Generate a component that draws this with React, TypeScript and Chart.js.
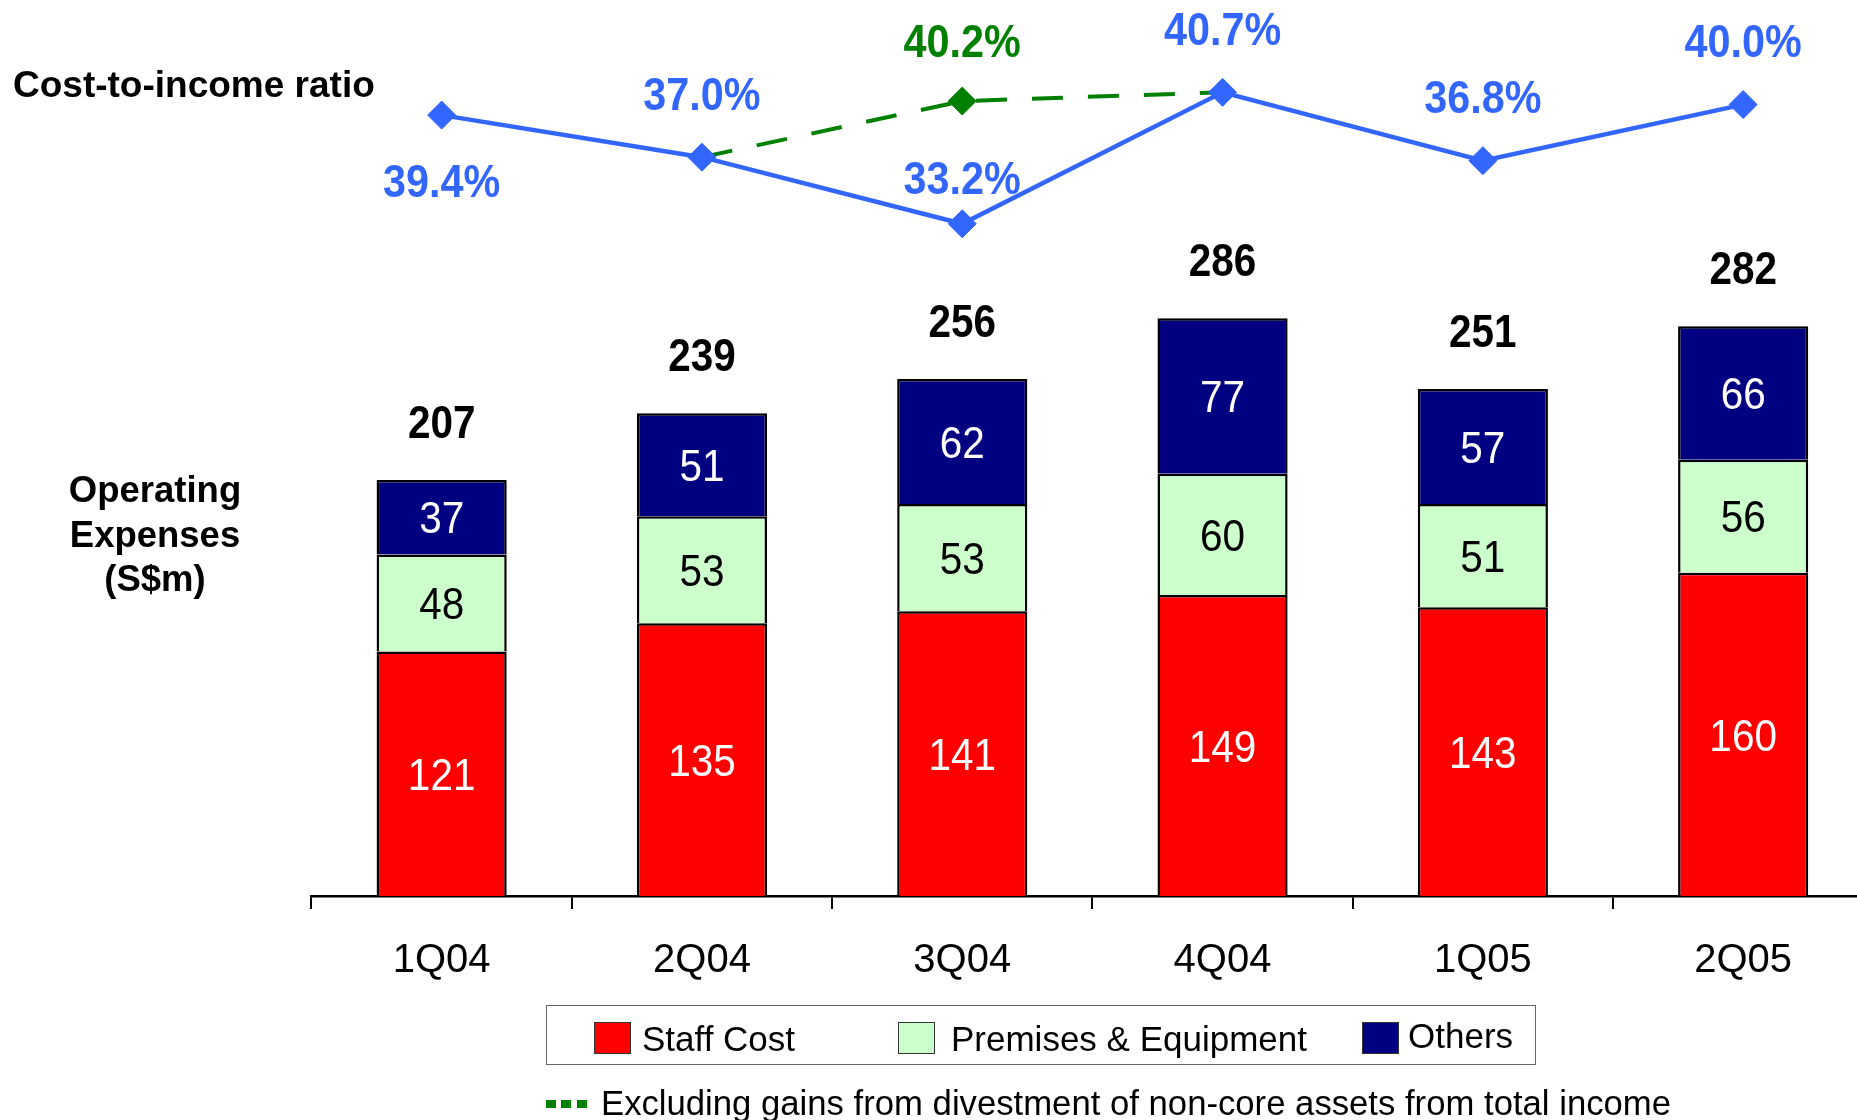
import React, { useEffect, useRef } from "react";
import { Chart, registerables } from "chart.js";

Chart.register(...registerables);

const categories = ["1Q04", "2Q04", "3Q04", "4Q04", "1Q05", "2Q05"];
const staffCost = [121, 135, 141, 149, 143, 160];
const premises = [48, 53, 53, 60, 51, 56];
const others = [37, 51, 62, 77, 57, 66];
const totals = [207, 239, 256, 286, 251, 282];
const costIncome = [39.4, 37.0, 33.2, 40.7, 36.8, 40.0];
const costIncomeExGains = [null, 37.0, 40.2, 40.7, null, null];

const FONT = "'Liberation Sans', Arial, Helvetica, sans-serif";
const BLUE = "#3366FF";
const GREEN = "#008000";
const RED = "#FF0000";
const LIGHT_GREEN = "#CCFFCC";
const NAVY = "#000080";

const CANVAS_W = 1890;
const CANVAS_H = 1120;
const AREA_LEFT = 311.5;
const AREA_RIGHT = 1873.3;
const AREA_TOP = 30;
const AREA_BOTTOM = 896;
const X_AXIS_H = 90;
const BAR_PX_PER_UNIT = 2.02;
const LINE_REF_VAL = 33.2;
const LINE_REF_Y = 223.8;
const LINE_PX_PER_PCT = 17.53;

function drawText(
  ctx: CanvasRenderingContext2D,
  text: string,
  x: number,
  y: number,
  font: string,
  color: string,
  sx: number
) {
  ctx.save();
  ctx.font = font;
  ctx.fillStyle = color;
  ctx.textAlign = "center";
  ctx.textBaseline = "alphabetic";
  ctx.translate(x, y);
  ctx.scale(sx, 1);
  ctx.fillText(text, 0, 0);
  ctx.restore();
}

const labelsPlugin = {
  id: "customLabels",
  afterDraw(chart: any) {
    const ctx = chart.ctx as CanvasRenderingContext2D;
    const segColors = ["#FFFFFF", "#000000", "#FFFFFF"];
    const segSize = 45;
    [0, 1, 2].forEach((di) => {
      const meta = chart.getDatasetMeta(di);
      const vals = chart.data.datasets[di].data;
      meta.data.forEach((el: any, i: number) => {
        const p = el.getProps(["x", "y", "base"], true);
        const cy = (p.y + p.base) / 2;
        drawText(ctx, String(vals[i]), p.x, cy + 0.358 * segSize, `${segSize}px ${FONT}`, segColors[di], 0.9);
      });
    });
    const topMeta = chart.getDatasetMeta(2);
    topMeta.data.forEach((el: any, i: number) => {
      const p = el.getProps(["x", "y"], true);
      drawText(ctx, String(totals[i]), p.x, p.y - 42, `bold 46px ${FONT}`, "#000000", 0.88);
    });
    const blueOffsets = [82, -47, -30, -47, -48, -48];
    const blueMeta = chart.getDatasetMeta(3);
    blueMeta.data.forEach((el: any, i: number) => {
      const p = el.getProps(["x", "y"], true);
      drawText(ctx, costIncome[i].toFixed(1) + "%", p.x, p.y + blueOffsets[i], `bold 47px ${FONT}`, BLUE, 0.88);
    });
    const greenMeta = chart.getDatasetMeta(4);
    greenMeta.data.forEach((el: any, i: number) => {
      if (i !== 2) return;
      const v = costIncomeExGains[i];
      if (v === null) return;
      const p = el.getProps(["x", "y"], true);
      drawText(ctx, v.toFixed(1) + "%", p.x, p.y - 44, `bold 47px ${FONT}`, GREEN, 0.88);
    });
  },
};

function ChartCanvas() {
  const ref = useRef<HTMLCanvasElement | null>(null);
  useEffect(() => {
    if (!ref.current) return;
    const barMax = (AREA_BOTTOM - AREA_TOP) / BAR_PX_PER_UNIT;
    const lineMax = LINE_REF_VAL + (LINE_REF_Y - AREA_TOP) / LINE_PX_PER_PCT;
    const lineMin = LINE_REF_VAL - (AREA_BOTTOM - LINE_REF_Y) / LINE_PX_PER_PCT;
    const barCommon = {
      type: "bar" as const,
      yAxisID: "y",
      borderColor: "#000000",
      borderWidth: 2.5,
      barPercentage: 0.5,
      categoryPercentage: 1,
      order: 2,
    };
    const chart = new Chart(ref.current, {
      type: "bar",
      data: {
        labels: categories,
        datasets: [
          { ...barCommon, label: "Staff Cost", data: staffCost, backgroundColor: RED },
          { ...barCommon, label: "Premises & Equipment", data: premises, backgroundColor: LIGHT_GREEN },
          { ...barCommon, label: "Others", data: others, backgroundColor: NAVY },
          {
            type: "line",
            label: "Cost-to-income ratio",
            data: costIncome,
            yAxisID: "y2",
            borderColor: BLUE,
            backgroundColor: BLUE,
            borderWidth: 4.5,
            pointStyle: "rectRot",
            pointRadius: 14,
            pointBorderWidth: 1,
            pointBackgroundColor: BLUE,
            pointBorderColor: BLUE,
            tension: 0,
            fill: false,
            order: 0,
          } as any,
          {
            type: "line",
            label: "Excluding gains from divestment of non-core assets from total income",
            data: costIncomeExGains,
            yAxisID: "y2",
            borderColor: GREEN,
            backgroundColor: GREEN,
            borderWidth: 4,
            borderDash: [31, 25],
            pointStyle: "rectRot",
            pointRadius: [0, 0, 14, 0, 0, 0],
            pointBorderWidth: 1,
            pointBackgroundColor: GREEN,
            pointBorderColor: GREEN,
            tension: 0,
            fill: false,
            spanGaps: false,
            order: 1,
          } as any,
        ],
      },
      options: {
        responsive: false,
        animation: false,
        devicePixelRatio: 1,
        layout: {
          padding: {
            left: AREA_LEFT,
            right: CANVAS_W - AREA_RIGHT,
            top: AREA_TOP,
            bottom: CANVAS_H - AREA_BOTTOM - X_AXIS_H,
          },
        },
        plugins: {
          legend: { display: false },
          tooltip: { enabled: false },
          title: { display: false },
        },
        scales: {
          x: {
            stacked: true,
            offset: true,
            afterFit: (scale: any) => {
              scale.height = X_AXIS_H;
            },
            grid: {
              display: true,
              offset: true,
              drawOnChartArea: false,
              drawTicks: true,
              tickLength: 13,
              color: "#000000",
              lineWidth: 2,
            },
            border: { display: true, color: "#000000", width: 2.5 },
            ticks: {
              color: "#000000",
              font: { family: FONT, size: 40 },
              padding: 28,
              maxRotation: 0,
              autoSkip: false,
            },
          },
          y: {
            display: false,
            stacked: true,
            min: 0,
            max: barMax,
          },
          y2: {
            display: false,
            stacked: false,
            min: lineMin,
            max: lineMax,
          },
        },
      } as any,
      plugins: [labelsPlugin],
    });
    return () => chart.destroy();
  }, []);
  return (
    <canvas
      ref={ref}
      width={CANVAS_W}
      height={CANVAS_H}
      style={{ position: "absolute", left: 0, top: 0, width: CANVAS_W, height: CANVAS_H }}
    />
  );
}

const textBase: React.CSSProperties = {
  position: "absolute",
  fontFamily: FONT,
  whiteSpace: "nowrap",
  color: "#000000",
};

function Swatch({ left, color }: { left: number; color: string }) {
  return (
    <div
      style={{
        position: "absolute",
        left,
        top: 1022,
        width: 35,
        height: 30,
        background: color,
        border: "1px solid #333333",
      }}
    />
  );
}

export default function App() {
  return (
    <div
      style={{
        position: "fixed",
        left: 0,
        top: 0,
        width: 1857,
        height: 1120,
        overflow: "hidden",
        background: "#FFFFFF",
      }}
    >
      <ChartCanvas />
      <div style={{ ...textBase, left: 13, top: 66, fontSize: 37, lineHeight: "37px", fontWeight: "bold" }}>
        Cost-to-income ratio
      </div>
      <div
        style={{
          ...textBase,
          left: 55,
          top: 468,
          width: 200,
          textAlign: "center",
          fontSize: 36.5,
          lineHeight: "44.5px",
          fontWeight: "bold",
        }}
      >
        Operating
        <br />
        Expenses
        <br />
        (S$m)
      </div>
      <div
        style={{
          position: "absolute",
          left: 546,
          top: 1005,
          width: 990,
          height: 60,
          border: "1.5px solid #666666",
          boxSizing: "border-box",
        }}
      />
      <Swatch left={594} color={RED} />
      <div style={{ ...textBase, left: 642, top: 1021, fontSize: 35, lineHeight: "35px" }}>Staff Cost</div>
      <Swatch left={898} color={LIGHT_GREEN} />
      <div style={{ ...textBase, left: 951, top: 1021, fontSize: 35, lineHeight: "35px" }}>
        Premises &amp; Equipment
      </div>
      <Swatch left={1362} color={NAVY} />
      <div style={{ ...textBase, left: 1408, top: 1018, fontSize: 35, lineHeight: "35px" }}>Others</div>
      {[546, 561, 577].map((l) => (
        <div
          key={l}
          style={{ position: "absolute", left: l, top: 1100, width: 10, height: 8, background: GREEN }}
        />
      ))}
      <div style={{ ...textBase, left: 601, top: 1086, fontSize: 34.7, lineHeight: "34.7px" }}>
        Excluding gains from divestment of non-core assets from total income
      </div>
    </div>
  );
}
